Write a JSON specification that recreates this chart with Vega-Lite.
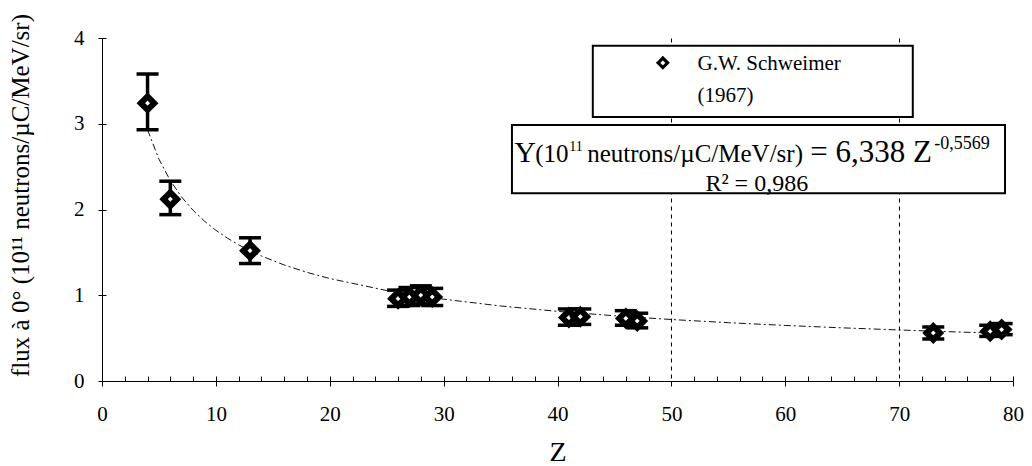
{
  "$schema": "https://vega.github.io/schema/vega-lite/v6.json",
  "width": 911,
  "height": 343,
  "autosize": {"type": "none"},
  "padding": {"left": 102, "top": 38, "right": 19, "bottom": 85},
  "background": "white",
  "config": {
    "view": {"stroke": null},
    "font": "Liberation Serif",
    "axis": {
      "labelFont": "Liberation Serif",
      "titleFont": "Liberation Serif",
      "labelColor": "black",
      "titleColor": "black",
      "domainColor": "black",
      "tickColor": "black",
      "titleFontWeight": "normal"
    }
  },
  "resolve": {"axis": {"x": "independent", "y": "independent"}},
  "datasets": {
    "measures": [
      {"Z": 4, "flux": 3.24, "lo": 2.93, "hi": 3.58},
      {"Z": 6, "flux": 2.12, "lo": 1.94, "hi": 2.33},
      {"Z": 13, "flux": 1.52, "lo": 1.37, "hi": 1.67},
      {"Z": 26, "flux": 0.96, "lo": 0.87, "hi": 1.06},
      {"Z": 27, "flux": 0.98, "lo": 0.88, "hi": 1.09},
      {"Z": 28, "flux": 1.0, "lo": 0.9, "hi": 1.11},
      {"Z": 29, "flux": 0.98, "lo": 0.88, "hi": 1.08},
      {"Z": 41, "flux": 0.74, "lo": 0.65, "hi": 0.84},
      {"Z": 42, "flux": 0.75, "lo": 0.66, "hi": 0.84},
      {"Z": 46, "flux": 0.73, "lo": 0.65, "hi": 0.82},
      {"Z": 47, "flux": 0.7, "lo": 0.62, "hi": 0.79},
      {"Z": 73, "flux": 0.56, "lo": 0.49, "hi": 0.63},
      {"Z": 78, "flux": 0.58, "lo": 0.52, "hi": 0.65},
      {"Z": 79, "flux": 0.6, "lo": 0.54, "hi": 0.67}
    ],
    "fit": [
      {"Z": 4, "flux": 2.929},
      {"Z": 5, "flux": 2.587},
      {"Z": 6, "flux": 2.337},
      {"Z": 7, "flux": 2.144},
      {"Z": 8, "flux": 1.991},
      {"Z": 9, "flux": 1.864},
      {"Z": 10, "flux": 1.758},
      {"Z": 11, "flux": 1.667},
      {"Z": 12, "flux": 1.588},
      {"Z": 13, "flux": 1.519},
      {"Z": 14, "flux": 1.458},
      {"Z": 16, "flux": 1.353},
      {"Z": 18, "flux": 1.267},
      {"Z": 20, "flux": 1.195},
      {"Z": 25, "flux": 1.055},
      {"Z": 30, "flux": 0.954},
      {"Z": 35, "flux": 0.875},
      {"Z": 40, "flux": 0.812},
      {"Z": 45, "flux": 0.761},
      {"Z": 50, "flux": 0.717},
      {"Z": 55, "flux": 0.68},
      {"Z": 60, "flux": 0.648},
      {"Z": 65, "flux": 0.62},
      {"Z": 70, "flux": 0.595},
      {"Z": 75, "flux": 0.572},
      {"Z": 80, "flux": 0.552}
    ]
  },
  "layer": [
    {
      "data": {"name": "fit"},
      "mark": {"type": "line", "color": "#111", "strokeWidth": 1, "strokeDash": [7, 3, 2, 3]},
      "encoding": {
        "x": {
          "field": "Z",
          "type": "quantitative",
          "scale": {"domain": [0, 80], "nice": false},
          "title": "Z",
          "axis": {
            "values": [0, 2, 4, 6, 8, 10, 12, 14, 16, 18, 20, 22, 24, 26, 28, 30, 32, 34, 36, 38, 40, 42, 44, 46, 48, 50, 52, 54, 56, 58, 60, 62, 64, 66, 68, 70, 72, 74, 76, 78, 80],
            "labelExpr": "datum.value % 10 === 0 ? datum.label : ''",
            "tickSize": 5,
            "tickWidth": 1,
            "tickOpacity": {"condition": {"test": "datum.value % 10 === 0", "value": 1}, "value": 0},
            "grid": true,
            "gridColor": "black",
            "gridWidth": 1,
            "gridOpacity": 1,
            "gridDash": {"condition": {"test": "datum.value === 50 || datum.value === 70", "value": [4, 4]}, "value": [0, 338, 5, 2000]},
            "labelFontSize": 21,
            "labelPadding": 17,
            "labelFlush": false,
            "labelOverlap": false,
            "titleFontSize": 28,
            "titlePadding": 14
          }
        },
        "y": {
          "field": "flux",
          "type": "quantitative",
          "scale": {"domain": [0, 4], "nice": false},
          "title": "flux à 0° (10¹¹ neutrons/µC/MeV/sr)",
          "axis": {
            "values": [0, 1, 2, 3, 4],
            "grid": true,
            "gridColor": "black",
            "gridOpacity": 1,
            "gridDash": [4, 2000],
            "tickSize": 4,
            "labelFontSize": 21,
            "labelPadding": 14,
            "titleFontSize": 25,
            "titlePadding": 40,
            "titleY": 157
          }
        }
      }
    },
    {
      "data": {"name": "measures"},
      "mark": {"type": "rule", "color": "black", "strokeWidth": 3.5},
      "encoding": {
        "x": {"field": "Z", "type": "quantitative", "scale": {"domain": [0, 80], "nice": false}, "axis": null},
        "y": {"field": "lo", "type": "quantitative", "scale": {"domain": [0, 4], "nice": false}, "axis": null},
        "y2": {"field": "hi"}
      }
    },
    {
      "data": {"name": "measures"},
      "mark": {"type": "tick", "orient": "horizontal", "color": "black", "size": 22, "thickness": 3.5, "opacity": 1},
      "encoding": {
        "x": {"field": "Z", "type": "quantitative", "scale": {"domain": [0, 80], "nice": false}, "axis": null},
        "y": {"field": "lo", "type": "quantitative", "scale": {"domain": [0, 4], "nice": false}, "axis": null}
      }
    },
    {
      "data": {"name": "measures"},
      "mark": {"type": "tick", "orient": "horizontal", "color": "black", "size": 22, "thickness": 3.5, "opacity": 1},
      "encoding": {
        "x": {"field": "Z", "type": "quantitative", "scale": {"domain": [0, 80], "nice": false}, "axis": null},
        "y": {"field": "hi", "type": "quantitative", "scale": {"domain": [0, 4], "nice": false}, "axis": null}
      }
    },
    {
      "data": {"name": "measures"},
      "mark": {"type": "point", "shape": "diamond", "filled": false, "fill": "white", "fillOpacity": 1, "stroke": "black", "strokeWidth": 6, "size": 180, "opacity": 1},
      "encoding": {
        "x": {"field": "Z", "type": "quantitative", "scale": {"domain": [0, 80], "nice": false}, "axis": null},
        "y": {"field": "flux", "type": "quantitative", "scale": {"domain": [0, 4], "nice": false}, "axis": null}
      }
    },
    {
      "data": {"values": [{}]},
      "mark": {"type": "rect", "fill": "white", "stroke": "black", "strokeWidth": 2},
      "encoding": {
        "x": {"datum": 43.1, "type": "quantitative", "axis": null},
        "x2": {"datum": 71.2},
        "y": {"datum": 3.91, "type": "quantitative", "axis": null},
        "y2": {"datum": 3.08}
      }
    },
    {
      "data": {"values": [{}]},
      "mark": {"type": "point", "shape": "diamond", "filled": false, "fill": "white", "fillOpacity": 1, "stroke": "black", "strokeWidth": 3.2, "size": 90, "opacity": 1},
      "encoding": {
        "x": {"datum": 49.25, "type": "quantitative", "axis": null},
        "y": {"datum": 3.71, "type": "quantitative", "axis": null}
      }
    },
    {
      "data": {"values": [{}]},
      "mark": {"type": "text", "text": ["G.W. Schweimer", "(1967)"], "align": "left", "baseline": "middle", "font": "Liberation Serif", "fontSize": 21, "lineHeight": 32, "color": "black"},
      "encoding": {
        "x": {"datum": 52.3, "type": "quantitative", "axis": null},
        "y": {"datum": 3.697, "type": "quantitative", "axis": null}
      }
    },
    {
      "data": {"values": [{}]},
      "mark": {"type": "rect", "fill": "white", "stroke": "black", "strokeWidth": 2},
      "encoding": {
        "x": {"datum": 36.0, "type": "quantitative", "axis": null},
        "x2": {"datum": 79.3},
        "y": {"datum": 2.985, "type": "quantitative", "axis": null},
        "y2": {"datum": 2.19}
      }
    },
    {
      "data": {"values": [{}]},
      "mark": {"type": "text", "text": "Y", "align": "left", "baseline": "alphabetic", "font": "Liberation Serif", "fontSize": 30, "color": "black", "dx": 0},
      "encoding": {
        "x": {"datum": 36.2, "type": "quantitative", "axis": null},
        "y": {"datum": 2.554, "type": "quantitative", "axis": null}
      }
    },
    {
      "data": {"values": [{}]},
      "mark": {"type": "text", "text": "(10", "align": "left", "baseline": "alphabetic", "font": "Liberation Serif", "fontSize": 25, "color": "black", "dx": 21},
      "encoding": {
        "x": {"datum": 36.2, "type": "quantitative", "axis": null},
        "y": {"datum": 2.554, "type": "quantitative", "axis": null}
      }
    },
    {
      "data": {"values": [{}]},
      "mark": {"type": "text", "text": "11", "align": "left", "baseline": "alphabetic", "font": "Liberation Serif", "fontSize": 14, "color": "black", "dx": 55, "dy": -11},
      "encoding": {
        "x": {"datum": 36.2, "type": "quantitative", "axis": null},
        "y": {"datum": 2.554, "type": "quantitative", "axis": null}
      }
    },
    {
      "data": {"values": [{}]},
      "mark": {"type": "text", "text": "neutrons/µC/MeV/sr)", "align": "left", "baseline": "alphabetic", "font": "Liberation Serif", "fontSize": 25, "color": "black", "dx": 73},
      "encoding": {
        "x": {"datum": 36.2, "type": "quantitative", "axis": null},
        "y": {"datum": 2.554, "type": "quantitative", "axis": null}
      }
    },
    {
      "data": {"values": [{}]},
      "mark": {"type": "text", "text": "= 6,338 Z", "align": "left", "baseline": "alphabetic", "font": "Liberation Serif", "fontSize": 31, "color": "black", "dx": 296},
      "encoding": {
        "x": {"datum": 36.2, "type": "quantitative", "axis": null},
        "y": {"datum": 2.554, "type": "quantitative", "axis": null}
      }
    },
    {
      "data": {"values": [{}]},
      "mark": {"type": "text", "text": "-0,5569", "align": "left", "baseline": "alphabetic", "font": "Liberation Serif", "fontSize": 18, "color": "black", "dx": 420, "dy": -13},
      "encoding": {
        "x": {"datum": 36.2, "type": "quantitative", "axis": null},
        "y": {"datum": 2.554, "type": "quantitative", "axis": null}
      }
    },
    {
      "data": {"values": [{}]},
      "mark": {"type": "text", "text": "R² = 0,986", "align": "center", "baseline": "alphabetic", "font": "Liberation Serif", "fontSize": 24, "color": "black"},
      "encoding": {
        "x": {"datum": 57.5, "type": "quantitative", "axis": null},
        "y": {"datum": 2.216, "type": "quantitative", "axis": null}
      }
    }
  ]
}
